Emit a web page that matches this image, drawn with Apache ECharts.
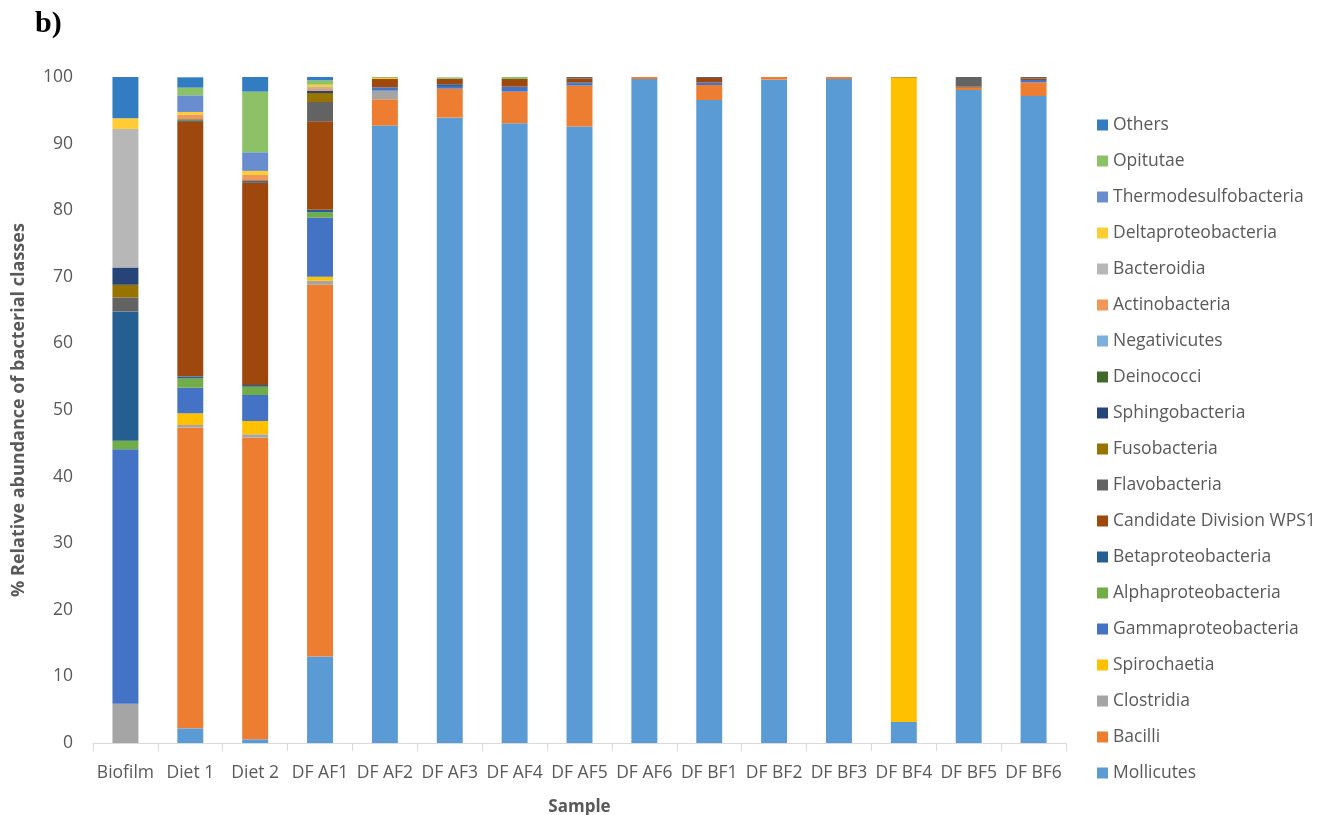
<!DOCTYPE html>
<html>
<head>
<meta charset="utf-8">
<script src="https://cdn.jsdelivr.net/npm/echarts@6/dist/echarts.min.js"></script>
<style>
html,body{margin:0;padding:0;background:#fff;}
#chart{width:1332px;height:815px;}
</style>
</head>
<body>
<div id="chart"></div>
<script>
// Categories (samples)
const categories = ['Biofilm','Diet 1','Diet 2','DF AF1','DF AF2','DF AF3','DF AF4','DF AF5','DF AF6','DF BF1','DF BF2','DF BF3','DF BF4','DF BF5','DF BF6'];

// Series values (% relative abundance), stacked bottom -> top
const mollicutes      = [0, 2.2, 0.55, 13.0, 92.7, 93.9, 93.05, 92.55, 99.7, 96.55, 99.6, 99.7, 3.15, 98.05, 97.15];
const bacilli         = [0, 45.15, 45.3, 55.8, 3.95, 4.35, 4.75, 6.15, 0.3, 2.25, 0.4, 0.3, 0, 0.35, 2.05];
const clostridia      = [5.9, 0.4, 0.5, 0.6, 1.3, 0, 0, 0, 0, 0, 0, 0, 0, 0, 0];
const spirochaetia    = [0, 1.75, 2.0, 0.6, 0, 0, 0, 0, 0, 0, 0, 0, 96.75, 0, 0];
const gammaproteo     = [38.2, 3.85, 3.9, 8.9, 0.5, 0.4, 0.75, 0.3, 0, 0.4, 0, 0, 0, 0, 0.35];
const alphaproteo     = [1.3, 1.4, 1.25, 0.8, 0, 0, 0, 0, 0, 0, 0, 0, 0, 0, 0];
const betaproteo      = [19.4, 0.3, 0.25, 0.35, 0, 0.25, 0, 0.2, 0, 0, 0, 0, 0, 0, 0];
const wps1            = [0, 38.2, 30.35, 13.3, 1.25, 0.85, 1.15, 0.6, 0, 0.65, 0, 0, 0, 0.15, 0.25];
const flavobacteria   = [2.1, 0.2, 0.4, 2.9, 0, 0, 0, 0.2, 0, 0.15, 0, 0, 0, 1.45, 0.2];
const fusobacteria    = [1.9, 0, 0, 1.35, 0, 0, 0, 0, 0, 0, 0, 0, 0.1, 0, 0];
const sphingobacteria = [2.6, 0, 0, 0.35, 0, 0, 0, 0, 0, 0, 0, 0, 0, 0, 0];
const deinococci      = [0, 0.2, 0, 0, 0, 0, 0, 0, 0, 0, 0, 0, 0, 0, 0];
const negativicutes   = [0, 0, 0, 0, 0, 0, 0, 0, 0, 0, 0, 0, 0, 0, 0];
const actinobacteria  = [0, 0.7, 0.8, 0.25, 0, 0, 0, 0, 0, 0, 0, 0, 0, 0, 0];
const bacteroidia     = [20.8, 0, 0, 0.3, 0, 0, 0, 0, 0, 0, 0, 0, 0, 0, 0];
const deltaproteo     = [1.6, 0.4, 0.6, 0.35, 0.15, 0, 0, 0, 0, 0, 0, 0, 0, 0, 0];
const thermodesulfo   = [0, 2.5, 2.8, 0, 0, 0, 0, 0, 0, 0, 0, 0, 0, 0, 0];
const opitutae        = [0, 1.15, 9.1, 0.65, 0.15, 0.2, 0.3, 0, 0, 0, 0, 0, 0, 0, 0];
const others          = [6.2, 1.55, 2.2, 0.55, 0, 0, 0, 0, 0, 0, 0, 0, 0, 0, 0];

// Y-axis tick labels
const yTicks = [0, 10, 20, 30, 40, 50, 60, 70, 80, 90, 100];

const seriesDefs = [
  ['Mollicutes', mollicutes, '#5B9BD5'],
  ['Bacilli', bacilli, '#ED7D31'],
  ['Clostridia', clostridia, '#A5A5A5'],
  ['Spirochaetia', spirochaetia, '#FFC000'],
  ['Gammaproteobacteria', gammaproteo, '#4472C4'],
  ['Alphaproteobacteria', alphaproteo, '#70AD47'],
  ['Betaproteobacteria', betaproteo, '#255E91'],
  ['Candidate Division WPS1', wps1, '#9E480E'],
  ['Flavobacteria', flavobacteria, '#636363'],
  ['Fusobacteria', fusobacteria, '#997300'],
  ['Sphingobacteria', sphingobacteria, '#264478'],
  ['Deinococci', deinococci, '#43682B'],
  ['Negativicutes', negativicutes, '#7CAFDD'],
  ['Actinobacteria', actinobacteria, '#F1975A'],
  ['Bacteroidia', bacteroidia, '#B7B7B7'],
  ['Deltaproteobacteria', deltaproteo, '#FFCD33'],
  ['Thermodesulfobacteria', thermodesulfo, '#698ED0'],
  ['Opitutae', opitutae, '#8CC168'],
  ['Others', others, '#327DC2']
];

const FONT = '"Open Sans", "Liberation Sans", sans-serif';
const TXT = '#595959';

const chart = echarts.init(document.getElementById('chart'), null, {renderer: 'canvas'});
chart.setOption({
  animation: false,
  backgroundColor: '#ffffff',
  textStyle: {fontFamily: FONT},
  graphic: [{
    type: 'text', left: 35, top: 9,
    style: {text: 'b)', font: 'bold 30px "Liberation Serif", "DejaVu Serif", serif', fill: '#000'}
  }],
  legend: {
    orient: 'vertical',
    left: 1092, top: 111,
    itemWidth: 11, itemHeight: 11, itemGap: 18,
    icon: 'rect',
    data: seriesDefs.map(d => d[0]).reverse(),
    textStyle: {color: TXT, fontSize: 17.5, fontFamily: FONT}
  },
  grid: {left: 93, right: 266, top: 77, bottom: 72, containLabel: false, outerBoundsMode: 'none'},
  xAxis: {
    type: 'category',
    data: categories,
    name: 'Sample',
    nameLocation: 'middle',
    nameGap: 56,
    nameTextStyle: {color: TXT, fontSize: 17, fontWeight: 'bold', fontFamily: FONT},
    axisLine: {lineStyle: {color: '#D9D9D9', width: 1}},
    axisTick: {show: true, length: 8, lineStyle: {color: '#D9D9D9'}},
    axisLabel: {interval: 0, color: TXT, fontSize: 17.5, margin: 21, fontFamily: FONT}
  },
  yAxis: {
    type: 'value',
    min: yTicks[0], max: yTicks[yTicks.length - 1], interval: 10,
    name: '% Relative abundance of bacterial classes',
    nameLocation: 'middle',
    nameGap: 65,
    nameTextStyle: {color: TXT, fontSize: 18, fontWeight: 'bold', fontFamily: FONT},
    axisLine: {show: false},
    axisTick: {show: false},
    splitLine: {show: false},
    axisLabel: {color: TXT, fontSize: 17.5, margin: 20, fontFamily: FONT}
  },
  series: seriesDefs.map(d => ({
    name: d[0],
    type: 'bar',
    stack: 'total',
    data: d[1],
    barWidth: '40%',
    itemStyle: {color: d[2]}
  }))
});
</script>
</body>
</html>
